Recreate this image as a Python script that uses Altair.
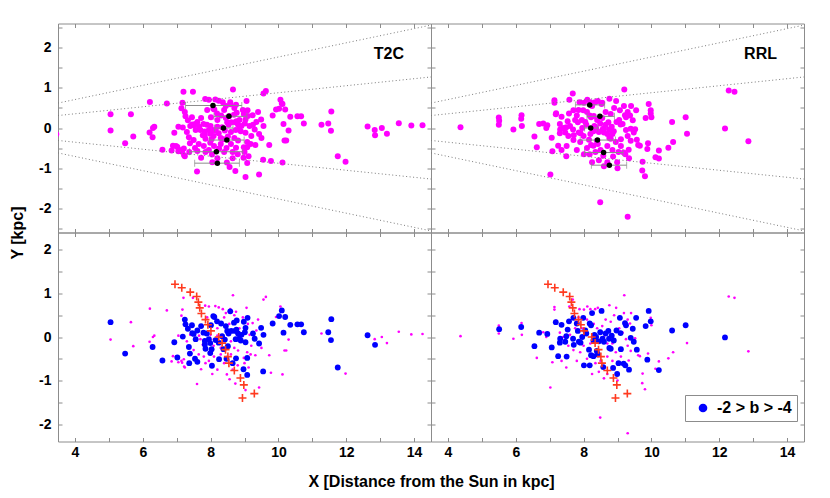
import altair as alt
import pandas as pd

# ---------------- data ----------------
X_TICKS = [4, 5, 6, 7, 8, 9, 10, 11, 12, 13, 14]
Y_TICKS_TOP = [-2.5, -2, -1.5, -1, -0.5, 0, 0.5, 1, 1.5, 2, 2.5]
Y_TICKS_BOT = [-2, -1.5, -1, -0.5, 0, 0.5, 1, 1.5, 2]

GUIDE_X = [3.5, 14.5]
GUIDE_UP_OUTER = [0.62, 2.56]
GUIDE_UP_INNER = [0.31, 1.27]
GUIDE_LO_INNER = [-0.31, -1.27]
GUIDE_LO_OUTER = [-0.62, -2.56]

LEGEND_LABEL = "-2 > b > -4"

# T2C: stars in -2 > b > -4 (blue)
T2C_BLUE = [(5.05,0.34),(5.48,-0.38),(6.29,-0.23),(6.58,-0.54),(6.93,-0.12),(7.02,-0.47),(7.24,0.40),(7.26,0.29),
            (7.18,0.01),(7.33,0.19),(7.36,-0.23),(7.39,-0.38),(7.37,-0.60),(7.45,0.27),(7.46,0.09),(7.50,0.07),
            (7.56,-0.05),(7.54,-0.50),(7.61,-0.57),(7.61,0.15),(7.72,0.25),(7.79,0.10),(7.83,-0.09),(7.83,-0.17),
            (7.85,-0.27),(7.89,0.08),(7.95,-0.05),(7.99,-0.14),(7.99,-0.37),(8.04,-0.66),(8.03,-0.28),(8.08,0.48),
            (8.11,0.46),(8.01,0.27),(8.15,-0.07),(8.19,0.36),(8.24,-0.13),(8.25,-0.51),(8.31,0.31),(8.34,0.02),
            (8.38,-0.28),(8.42,-0.06),(8.45,0.25),(8.49,0.14),(8.53,0.08),(8.51,-0.21),(8.47,-0.50),(8.58,0.59),
            (8.61,0.14),(8.65,-0.60),(8.69,0.33),(8.72,0.14),(8.76,0.17),(8.74,-0.05),(8.75,-0.49),(8.77,0.38),
            (8.81,0.08),(8.84,-0.04),(8.91,0.05),(8.89,-0.08),(8.98,0.35),(9.01,0.11),(9.03,0.21),(9.03,-0.12),
            (8.97,-0.74),(9.09,0.44),(9.08,-0.48),(9.08,-0.87),(9.25,0.08),(9.30,-0.04),(9.43,-0.15),(9.49,0.21),
            (9.56,0.05),(9.55,-0.79),(9.83,0.31),(10.02,0.48),(10.10,0.61),(10.20,0.46),(10.15,0.10),(10.35,0.28),
            (10.56,0.29),(10.67,0.29),(10.75,0.11),(11.47,0.11),(11.56,0.41),(11.55,-0.07),(11.75,-0.70),
            (12.63,0.04),(12.85,-0.18)]

# T2C: remaining stars (magenta only)
T2C_OTHER = [(3.45,-0.15),(5.05,-0.06),(5.65,0.34),(5.72,-0.21),(6.21,0.65),(6.20,-0.11),(6.34,0.03),(6.30,0.00),
             (6.71,0.61),(6.85,-0.56),(6.89,-0.44),(7.14,-0.55),(7.22,-0.68),(7.17,0.63),(7.14,0.49),(7.20,0.90),
             (7.48,0.90),(7.60,-1.08),(7.72,-0.74),(7.84,0.72),(7.95,0.70),(8.14,0.71),(8.24,0.68),(8.36,0.64),
             (8.45,0.55),(8.58,0.64),(8.66,0.96),(8.75,0.58),(9.06,0.67),(9.24,0.32),(9.32,-0.42),(9.43,-1.16),
             (9.03,-1.22),(8.73,-1.07),(8.56,-0.97),(8.48,-0.86),(8.81,-0.31),(8.98,-0.48),(9.08,-0.35),(9.18,-0.40),
             (9.56,0.86),(9.63,0.92),(9.78,-0.82),(10.12,-0.86),(9.73,-0.42),(9.93,0.46),(10.06,0.70),(10.12,0.60),
             (10.30,-0.06),(10.18,-0.31),(10.23,-0.31),(11.27,0.08),(11.98,-0.84),(12.84,-0.05),(13.05,0.00),
             (13.20,-0.14),(13.55,0.12),(13.92,0.06),(14.25,0.07),
             (7.05,0.03),(6.98,-0.45),(7.21,-0.51),(7.16,-0.59),(7.05,-0.58),(7.24,-0.70),(7.66,0.03),(7.70,-0.05),
             (7.77,-0.18),(8.09,-0.20),(8.20,0.03),(7.90,0.45),(7.55,0.10),(7.40,0.05),(7.30,-0.10),(7.50,-0.30),
             (7.65,-0.40),(7.80,-0.45),(7.95,-0.55),(8.10,-0.45),(8.30,-0.40),(8.40,-0.60),(8.60,-0.40),(8.70,-0.25),
             (8.60,-0.10),(8.85,0.20),(8.95,0.45),(8.40,0.45),(8.20,0.20),(8.00,0.05),(8.10,-0.05),(8.55,0.30),
             (8.70,0.50),(9.15,0.05),(9.20,-0.20),(9.35,0.15),(9.10,0.30),(8.30,-0.25),(8.80,-0.65),(9.00,-0.60),
             (9.12,-0.70),(8.20,-0.75),(8.05,-0.85),(7.85,-0.60),(8.65,-0.75),(9.40,0.40),(9.50,-0.25)]

# RRL: stars in -2 > b > -4 (blue)
RRL_BLUE = [(5.51,0.18),(6.16,0.23),(6.69,0.10),(6.93,0.07),(6.55,-0.21),(7.06,-0.24),(7.18,0.34),(7.25,-0.44),
            (7.31,-0.04),(7.35,0.28),(7.30,-0.13),(7.46,-0.11),(7.49,0.02),(7.50,-0.45),(7.53,0.17),(7.57,0.36),
            (7.69,-0.04),(7.71,-0.18),(7.70,0.44),(7.80,0.31),(7.83,0.14),(7.86,-0.11),(7.91,-0.13),(7.96,0.00),
            (7.99,0.44),(8.01,-0.65),(8.05,0.15),(8.08,0.08),(8.16,-0.29),(8.18,-0.65),(8.18,0.31),(8.22,0.27),
            (8.25,0.55),(8.22,-0.42),(8.29,-0.44),(8.29,-0.08),(8.32,0.05),(8.37,0.00),(8.39,-0.32),(8.42,-0.40),
            (8.45,-0.10),(8.49,0.11),(8.53,0.60),(8.56,-0.04),(8.58,-0.69),(8.60,-0.11),(8.65,0.08),(8.73,0.14),
            (8.75,-0.04),(8.76,-0.25),(8.80,-0.27),(8.83,0.03),(8.87,-0.71),(8.89,-0.08),(8.97,0.15),(8.99,-0.85),
            (9.03,-0.60),(9.07,0.44),(9.09,0.09),(9.10,-0.28),(9.18,-0.61),(9.22,0.32),(9.23,-0.65),(9.25,0.27),
            (9.34,-0.75),(9.39,-0.02),(9.45,0.19),(9.48,-0.11),(9.55,0.44),(9.57,-0.29),(9.83,0.25),(9.88,-0.52),
            (9.92,0.60),(9.98,0.36),(10.22,-0.76),(10.61,0.15),(11.01,0.27),(12.17,-0.01)]

# RRL: remaining stars (magenta only)
RRL_OTHER = [(4.37,0.02),(5.50,0.26),(5.50,0.08),(5.93,-0.04),(6.17,0.32),(6.18,0.05),(6.62,-0.48),(6.81,0.11),
             (6.90,0.00),(7.02,-1.16),(7.08,-0.58),(7.14,0.69),(7.14,0.63),(7.19,0.37),(7.49,-0.70),(7.58,0.70),
             (7.68,0.86),(7.88,0.64),(8.01,0.63),(8.11,0.70),(8.20,0.64),(8.34,0.64),(8.42,0.67),(8.55,0.63),
             (8.76,0.73),(8.96,0.67),(9.20,0.96),(9.19,0.55),(9.37,0.31),(9.52,-0.03),(9.61,-0.42),(9.66,-0.44),
             (9.74,-0.84),(9.81,-1.20),(9.73,-1.06),(9.90,-0.38),(10.12,-0.73),(10.22,-0.56),(10.50,-0.49),
             (10.64,-0.35),(9.98,0.44),(10.00,0.27),(11.05,-0.14),(12.28,0.93),(12.45,0.90),(12.86,-0.33),
             (8.49,-1.85),(9.30,-2.21),(9.33,-0.54),(9.39,-0.32),
             (7.30,0.10),(7.40,0.00),(7.60,0.05),(7.75,0.20),(7.85,0.45),(7.95,0.20),(8.10,0.40),(8.30,0.30),
             (8.40,0.20),(8.55,0.25),(8.65,0.40),(8.80,0.35),(8.90,0.50),(9.05,0.20),(9.15,0.10),(9.25,-0.05),
             (9.30,-0.20),(9.10,-0.45),(8.95,-0.35),(8.70,-0.45),(8.50,-0.55),(8.35,-0.60),(8.10,-0.50),
             (7.90,-0.35),(7.70,-0.30),(7.55,-0.20),(8.00,-0.20),(8.20,-0.15),(8.60,0.00),(8.70,-0.15),
             (8.85,-0.15),(8.45,-0.80),(8.25,-0.85),(8.60,-0.95),(8.85,-0.55),(9.00,-1.00),(8.70,-0.85),
             (7.35,-0.55),(7.80,-0.55),(9.40,0.55),(9.30,0.40)]

# binned means (black) with horizontal error bars
T2C_MEAN_X = [8.07, 8.54, 8.38, 8.48, 8.17, 8.20]
T2C_MEAN_Y = [0.56, 0.29, 0.00, -0.30, -0.59, -0.875]
T2C_LO = [7.26, 8.10, 8.12, 7.97, 7.38, 7.53]
T2C_HI = [8.92, 9.07, 8.66, 8.99, 8.95, 8.85]

RRL_MEAN_X = [8.18, 8.48, 8.21, 8.41, 8.59, 8.76]
RRL_MEAN_Y = [0.575, 0.29, 0.00, -0.30, -0.61, -0.925]
RRL_LO = [7.76, 8.10, 8.03, 7.90, 8.03, 8.23]
RRL_HI = [8.62, 8.91, 8.42, 8.94, 9.16, 9.27]

# bar model (red crosses)
BAR_X = [6.95, 7.15, 7.40, 7.59, 7.64, 7.68, 7.73, 7.85, 7.92, 8.01, 8.24, 8.34, 8.44, 8.51, 8.54, 8.70, 8.88,
         8.98, 8.94, 9.29]
BAR_Y = [1.21, 1.13, 1.03, 0.93, 0.80, 0.67, 0.54, 0.40, 0.28, 0.14, 0.00, -0.14, -0.29, -0.45, -0.60, -0.77,
         -0.94, -1.10, -1.40, -1.30]

# ---------------- styling ----------------
FONT = "Liberation Sans"
GRAY = "#8c8c8c"
MAGENTA = "#ff00ff"
BLUE = "#0000ff"
RED = "#ff3a1f"
W, H = 373, 209
XS = alt.Scale(domain=[3.5, 14.5], nice=False, zero=False)

X_LABEL_EXPR = "datum.value % 2 == 0 ? '' + datum.value : ''"
Y_LABEL_EXPR = ("datum.value % 1 == 0 ? (datum.value < 0 ? '-' + (-datum.value) : '' + datum.value) : ''")


def main_axes(top, left):
    xa = dict(orient="bottom", values=X_TICKS, labels=not top, tickSize=4, offset=-4, domain=False,
              grid=False, labelOverlap=False, labelPadding=4, labelExpr=X_LABEL_EXPR)
    if (not top) and left:
        xa.update(title="X [Distance from the Sun in kpc]", titleX=373, titleY=44, titleAlign="center",
                  titleBaseline="middle")
    else:
        xa.update(title=None)
    ya = dict(orient="left", values=Y_TICKS_TOP if top else Y_TICKS_BOT, labels=left, tickSize=4, offset=-4,
              domain=False, grid=False, labelOverlap=False, labelPadding=7, labelExpr=Y_LABEL_EXPR)
    if top and left:
        ya.update(title="Y [kpc]", titleX=-45, titleY=H, titleAngle=270, titleAlign="center",
                  titleBaseline="middle")
    else:
        ya.update(title=None)
    return alt.Axis(**xa), alt.Axis(**ya)


def mirror_axes(top):
    xa = alt.Axis(orient="top", values=X_TICKS, labels=False, tickSize=4, offset=-4, domain=False, grid=False,
                  title=None)
    ya = alt.Axis(orient="right", values=Y_TICKS_TOP if top else Y_TICKS_BOT, labels=False, tickSize=4,
                  offset=-4, domain=False, grid=False, title=None)
    return xa, ya


def top_panel(label, blue, other, mx, my, lo, hi, left):
    ys = alt.Scale(domain=[-2.6, 2.6], nice=False, zero=False)
    xa, ya = main_axes(True, left)
    mxa, mya = mirror_axes(True)
    guides = pd.DataFrame({
        "x": GUIDE_X * 4,
        "y": GUIDE_UP_OUTER + GUIDE_UP_INNER + GUIDE_LO_INNER + GUIDE_LO_OUTER,
        "g": ["a", "a", "b", "b", "c", "c", "d", "d"],
    })
    allpts = pd.DataFrame(blue + other, columns=["x", "y"])
    means = pd.DataFrame({"x": mx, "y": my, "lo": lo, "hi": hi})
    caps = pd.DataFrame({"x": lo + hi, "y": my + my})

    m = alt.Chart(allpts).mark_circle(size=36, color=MAGENTA, opacity=1, clip=True).encode(
        x=alt.X("x:Q", scale=XS, axis=xa), y=alt.Y("y:Q", scale=ys, axis=ya))
    g = alt.Chart(guides).mark_line(color="#7a7a7a", strokeWidth=1, strokeDash=[1, 2.5], clip=True).encode(
        x=alt.X("x:Q", scale=XS, axis=None), y=alt.Y("y:Q", scale=ys, axis=None), detail="g:N")
    eb = alt.Chart(means).mark_rule(color=GRAY, strokeWidth=1).encode(
        x=alt.X("lo:Q", scale=XS, axis=None), x2="hi:Q", y=alt.Y("y:Q", scale=ys, axis=None))
    cp = alt.Chart(caps).mark_tick(orient="vertical", color=GRAY, size=7, thickness=1).encode(
        x=alt.X("x:Q", scale=XS, axis=None), y=alt.Y("y:Q", scale=ys, axis=None))
    bk = alt.Chart(means).mark_circle(size=30, color="black", opacity=1).encode(
        x=alt.X("x:Q", scale=XS, axis=mxa), y=alt.Y("y:Q", scale=ys, axis=mya))
    tx = alt.Chart(alt.Data(values=[{}])).mark_text(
        font=FONT, fontSize=16, fontWeight="bold", align="right", baseline="middle", color="black").encode(
        x=alt.value(346), y=alt.value(30), text=alt.value(label))
    return alt.layer(m, g, eb, cp, bk, tx).resolve_axis(x="independent", y="independent").properties(
        width=W, height=H)


def bottom_panel(blue, other, left, legend):
    ys = alt.Scale(domain=[-2.4, 2.4], nice=False, zero=False)
    xa, ya = main_axes(False, left)
    mxa, mya = mirror_axes(False)
    small = pd.DataFrame(other, columns=["x", "y"])
    big = pd.DataFrame(blue, columns=["x", "y"])
    big["grp"] = LEGEND_LABEL
    bar = pd.DataFrame({"x": BAR_X, "y": BAR_Y})

    sm = alt.Chart(small).mark_circle(size=7, color=MAGENTA, opacity=1, clip=True).encode(
        x=alt.X("x:Q", scale=XS, axis=xa), y=alt.Y("y:Q", scale=ys, axis=ya))
    if legend:
        color = alt.Color("grp:N", scale=alt.Scale(domain=[LEGEND_LABEL], range=[BLUE]),
                          legend=alt.Legend(title=None, orient="none", legendX=627, legendY=371.5,
                                            symbolType="circle", symbolSize=75, symbolStrokeWidth=0,
                                            symbolOffset=5, labelOffset=6, padding=5,
                                            labelFont=FONT, labelFontSize=16, labelFontWeight="bold",
                                            labelColor="black", strokeColor=GRAY, fillColor="white"))
        bl = alt.Chart(big).mark_circle(size=34, opacity=1).encode(
            x=alt.X("x:Q", scale=XS, axis=mxa), y=alt.Y("y:Q", scale=ys, axis=mya), color=color)
    else:
        bl = alt.Chart(big).mark_circle(size=34, color=BLUE, opacity=1).encode(
            x=alt.X("x:Q", scale=XS, axis=mxa), y=alt.Y("y:Q", scale=ys, axis=mya))
    cr = alt.Chart(bar).mark_point(shape="M-1,0H1M0,-1V1", size=64, color=RED, filled=False,
                                   strokeWidth=1.6, opacity=1).encode(
        x=alt.X("x:Q", scale=XS, axis=None), y=alt.Y("y:Q", scale=ys, axis=None))
    return alt.layer(sm, bl, cr).resolve_axis(x="independent", y="independent").properties(width=W, height=H)


tl = top_panel("T2C", T2C_BLUE, T2C_OTHER, T2C_MEAN_X, T2C_MEAN_Y, T2C_LO, T2C_HI, True)
tr = top_panel("RRL", RRL_BLUE, RRL_OTHER, RRL_MEAN_X, RRL_MEAN_Y, RRL_LO, RRL_HI, False)
bl = bottom_panel(T2C_BLUE, T2C_OTHER, True, False)
br = bottom_panel(RRL_BLUE, RRL_OTHER, False, True)

chart = alt.concat(tl, tr, bl, br, columns=2, spacing=0, bounds="flush").properties(
    padding={"left": 0, "top": 11.5, "right": 5, "bottom": 5}
).configure_view(stroke=GRAY, strokeWidth=1).configure_axis(
    tickColor=GRAY, tickWidth=1, labelFont=FONT, labelFontSize=14, labelFontWeight="bold", labelColor="black",
    titleFont=FONT, titleFontSize=16, titleFontWeight="bold", titleColor="black")

chart.save("out.html", embed_options={"renderer": "svg", "actions": False})
